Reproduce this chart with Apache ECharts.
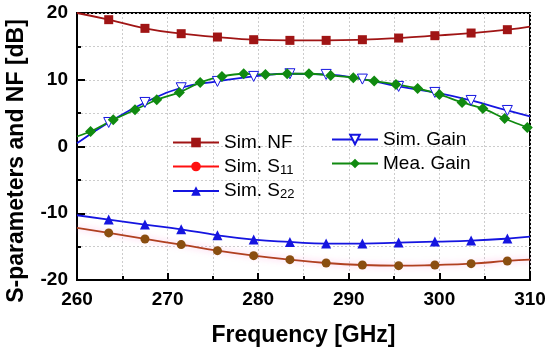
<!DOCTYPE html>
<html><head><meta charset="utf-8">
<script src="https://cdn.jsdelivr.net/npm/echarts@6/dist/echarts.min.js"></script>
<style>html,body{margin:0;padding:0;background:#fff}#c{width:550px;height:354px}</style>
</head><body><div id="c"></div>
<script>
const simFreq = [260, 263.5, 267.5, 271.5, 275.5, 279.5, 283.5, 287.5, 291.5, 295.5, 299.5, 303.5, 307.5, 310];
const simNF = [20.0, 19.0, 17.7, 16.9, 16.4, 16.0, 15.9, 15.9, 16.0, 16.25, 16.6, 17.0, 17.5, 17.95];
const simS11 = [-12.2, -12.95, -13.85, -14.7, -15.6, -16.35, -16.95, -17.45, -17.75, -17.85, -17.75, -17.55, -17.15, -16.95];
const simS22 = [-10.3, -10.95, -11.7, -12.4, -13.3, -13.95, -14.3, -14.55, -14.55, -14.4, -14.25, -14.1, -13.8, -13.5];
const simGain = [0.5, 3.6, 6.6, 8.8, 9.75, 10.5, 10.9, 10.8, 10.1, 9.0, 8.1, 6.9, 5.4, 4.5];
const meaFreq = [260, 261.5, 264.0, 266.4, 268.8, 271.3, 273.6, 276.0, 278.4, 280.8, 283.2, 285.6, 288.0, 290.5, 292.8, 295.2, 297.6, 300.0, 302.5, 304.8, 307.2, 309.7];
const meaGain = [1.5, 2.25, 4.0, 5.5, 7.0, 8.1, 9.6, 10.5, 10.9, 10.8, 10.9, 10.9, 10.65, 10.3, 9.8, 9.3, 8.7, 7.8, 6.6, 5.7, 4.2, 2.85];
const xTicks = [260, 270, 280, 290, 300, 310];
const yTicks = [-20, -10, 0, 10, 20];

function build(xs, ys, noSymbolIdx) {
  return xs.map((x, i) => noSymbolIdx.includes(i) ? {value: [x, ys[i]], symbol: 'none'} : [x, ys[i]]);
}
const simEnds = [0, simFreq.length - 1];

const chart = echarts.init(document.getElementById('c'));
const font = 'Liberation Sans, Arial, sans-serif';
const legendText = {
  fontFamily: font, fontSize: 19, color: '#000',
  rich: { a: {fontFamily: font, fontSize: 19, color: '#000'}, b: {fontFamily: font, fontSize: 13, color: '#000', padding: [7, 0, 0, 0]} }
};
const fmt = n => n === 'Sim. S11' ? '{a|Sim. S}{b|11}' : n === 'Sim. S22' ? '{a|Sim. S}{b|22}' : '{a|' + n + '}';
chart.setOption({
  animation: false,
  grid: {left: 77, right: 20, top: 13, bottom: 74, show: true, borderColor: '#000', borderWidth: 2, backgroundColor: 'transparent'},
  legend: [
    {data: ['Sim. NF', {name: 'Sim. S11', itemStyle: {color: '#ff1010'}, lineStyle: {color: '#ff1010'}}, 'Sim. S22'],
      orient: 'vertical', left: 167, top: 128, itemWidth: 46, itemHeight: 12, itemGap: 5, textStyle: legendText, formatter: fmt},
    {data: ['Sim. Gain', 'Mea. Gain'], orient: 'vertical', left: 326, top: 125, itemWidth: 46, itemHeight: 12, itemGap: 5, textStyle: legendText, formatter: fmt}
  ],
  graphic: [{type: 'text', x: 17, y: 161, rotation: Math.PI / 2,
    style: {text: 'S-parameters and NF [dB]', fontFamily: font, fontSize: 23, fontWeight: 'bold', fill: '#000', align: 'center', verticalAlign: 'middle'}}],
  xAxis: {
    type: 'value', min: 260, max: 310, interval: 10,
    name: 'Frequency [GHz]', nameLocation: 'middle', nameGap: 44,
    nameTextStyle: {fontFamily: font, fontSize: 23, fontWeight: 'bold', color: '#000'},
    axisLine: {onZero: false, lineStyle: {color: '#000', width: 2}},
    axisTick: {inside: true, length: 7, lineStyle: {color: '#000', width: 2}},
    minorTick: {show: true, splitNumber: 2, length: 4, lineStyle: {color: '#000', width: 2}},
    axisLabel: {fontFamily: font, fontSize: 19, fontWeight: 'bold', color: '#000', margin: 10,
      formatter: v => xTicks.includes(v) ? String(v) : ''},
    splitLine: {show: true, lineStyle: {color: '#ccc', type: [2, 2], width: 1}},
    minorSplitLine: {show: true, lineStyle: {color: '#ccc', type: [2, 2], width: 1}}
  },
  yAxis: {
    type: 'value', min: -20, max: 20, interval: 10,
    axisLine: {show: true, onZero: false, lineStyle: {color: '#000', width: 2}},
    axisTick: {show: true, inside: true, length: 8, lineStyle: {color: '#000', width: 2}},
    minorTick: {show: true, splitNumber: 2, length: 4, lineStyle: {color: '#000', width: 2}},
    axisLabel: {fontFamily: font, fontSize: 19, fontWeight: 'bold', color: '#000', margin: 9,
      formatter: v => yTicks.includes(v) ? String(v) : ''},
    splitLine: {show: true, lineStyle: {color: '#ccc', type: [2, 2], width: 1}},
    minorSplitLine: {show: true, lineStyle: {color: '#ccc', type: [2, 2], width: 1}}
  },
  series: [
    {name: 'Sim. NF', type: 'line', smooth: true, data: build(simFreq, simNF, simEnds),
      symbol: 'rect', symbolSize: 9, lineStyle: {color: '#a01515', width: 1.8}, itemStyle: {color: '#a01515'}},
    {name: 'Sim. S22', type: 'line', smooth: true, data: build(simFreq, simS22, simEnds),
      symbol: 'triangle', symbolSize: 10, lineStyle: {color: '#1515e0', width: 1.8}, itemStyle: {color: '#1515e0'}},
    {name: 'Sim. S11', type: 'line', smooth: true, data: build(simFreq, simS11, simEnds),
      symbol: 'circle', symbolSize: 9,
      lineStyle: {color: '#b04020', width: 1.8, shadowColor: 'rgba(255,120,200,0.55)', shadowBlur: 6},
      itemStyle: {color: '#8a4e10'}},
    {name: 'Sim. Gain', type: 'line', smooth: true, data: build(simFreq, simGain, simEnds),
      symbol: 'triangle', symbolRotate: 180, symbolSize: 10,
      lineStyle: {color: '#1515e0', width: 1.8}, itemStyle: {color: '#fff', borderColor: '#1515e0', borderWidth: 1}},
    {name: 'Mea. Gain', type: 'line', smooth: 0.2, data: build(meaFreq, meaGain, [0]),
      symbol: 'diamond', symbolSize: 11, lineStyle: {color: '#108a10', width: 1.8}, itemStyle: {color: '#108a10'}}
  ]
});
</script></body></html>
